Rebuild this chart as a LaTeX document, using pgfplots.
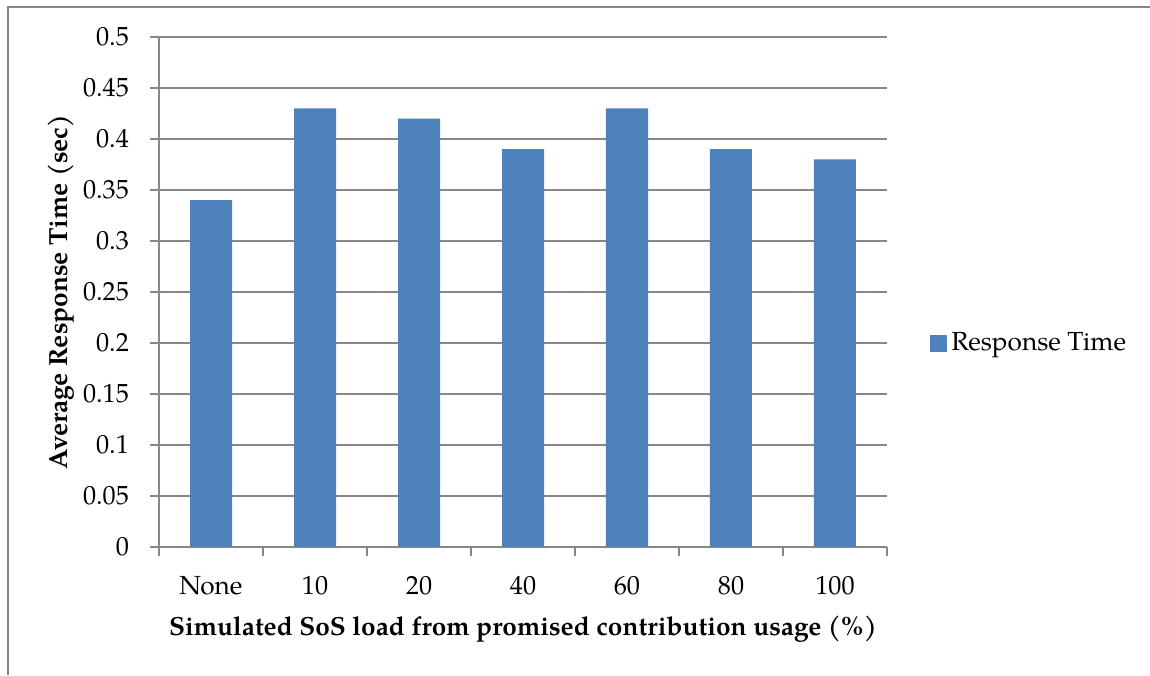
\documentclass[border=0pt]{standalone}
\usepackage{fontspec}
\setmainfont{TeX Gyre Pagella}
\usepackage{pgfplots}
\pgfplotsset{compat=1.18}
\definecolor{barblue}{HTML}{4F81BD}
\definecolor{gridgray}{HTML}{878787}
\begin{document}
\fontsize{13.1}{15.5}\selectfont
\begin{tikzpicture}
\useasboundingbox (0,0) rectangle (575pt,337.5pt);
% outer chart frame
\draw[gridgray, line width=1pt] (4pt,0pt) -- (4pt,334pt) -- (575pt,334pt);
\begin{axis}[
  at={(79.5pt,64pt)}, anchor=south west,
  scale only axis, width=364pt, height=255pt,
  xmin=-0.5, xmax=6.5, ymin=0, ymax=0.5,
  axis x line*=bottom, axis y line*=left,
  axis line style={gridgray, line width=0.75pt, -},
  ytick={0,0.05,0.1,0.15,0.2,0.25,0.3,0.35,0.4,0.45,0.5},
  yticklabel style={/pgf/number format/fixed, /pgf/number format/precision=2,
    /pgf/number format/assume math mode=true, xshift=-6pt},
  xticklabel style={yshift=-5.5pt},
  ymajorgrids, grid style={gridgray, line width=0.75pt},
  tick align=outside, major tick length=4.5pt, minor tick length=4.5pt,
  tick style={gridgray, line width=0.75pt},
  xtick={0,1,2,3,4,5,6},
  xticklabels={None,10,20,40,60,80,100},
  major x tick style={draw=none},
  minor xtick={-0.5,0.5,1.5,2.5,3.5,4.5,5.5,6.5},
  xlabel={\bfseries Simulated SoS load from promised contribution usage (\%)},
  ylabel={\bfseries Average Response Time (sec)},
  xlabel style={at={(axis description cs:0.5,-0.1745)}, anchor=base},
  ylabel style={at={(axis description cs:-0.1345,0.5)}, anchor=center},
  legend style={at={(1.059,0.4)}, anchor=west, draw=none, fill=none, inner sep=0pt},
  legend image code/.code={\fill[barblue] (0pt,-4.25pt) rectangle (8.5pt,4.25pt);},
]
\addplot[ybar, bar width=21pt, fill=barblue, draw=none]
  coordinates {(0,0.34) (1,0.43) (2,0.42) (3,0.39) (4,0.43) (5,0.39) (6,0.38)};
\addlegendentry{Response Time}
\end{axis}
\end{tikzpicture}
\end{document}
